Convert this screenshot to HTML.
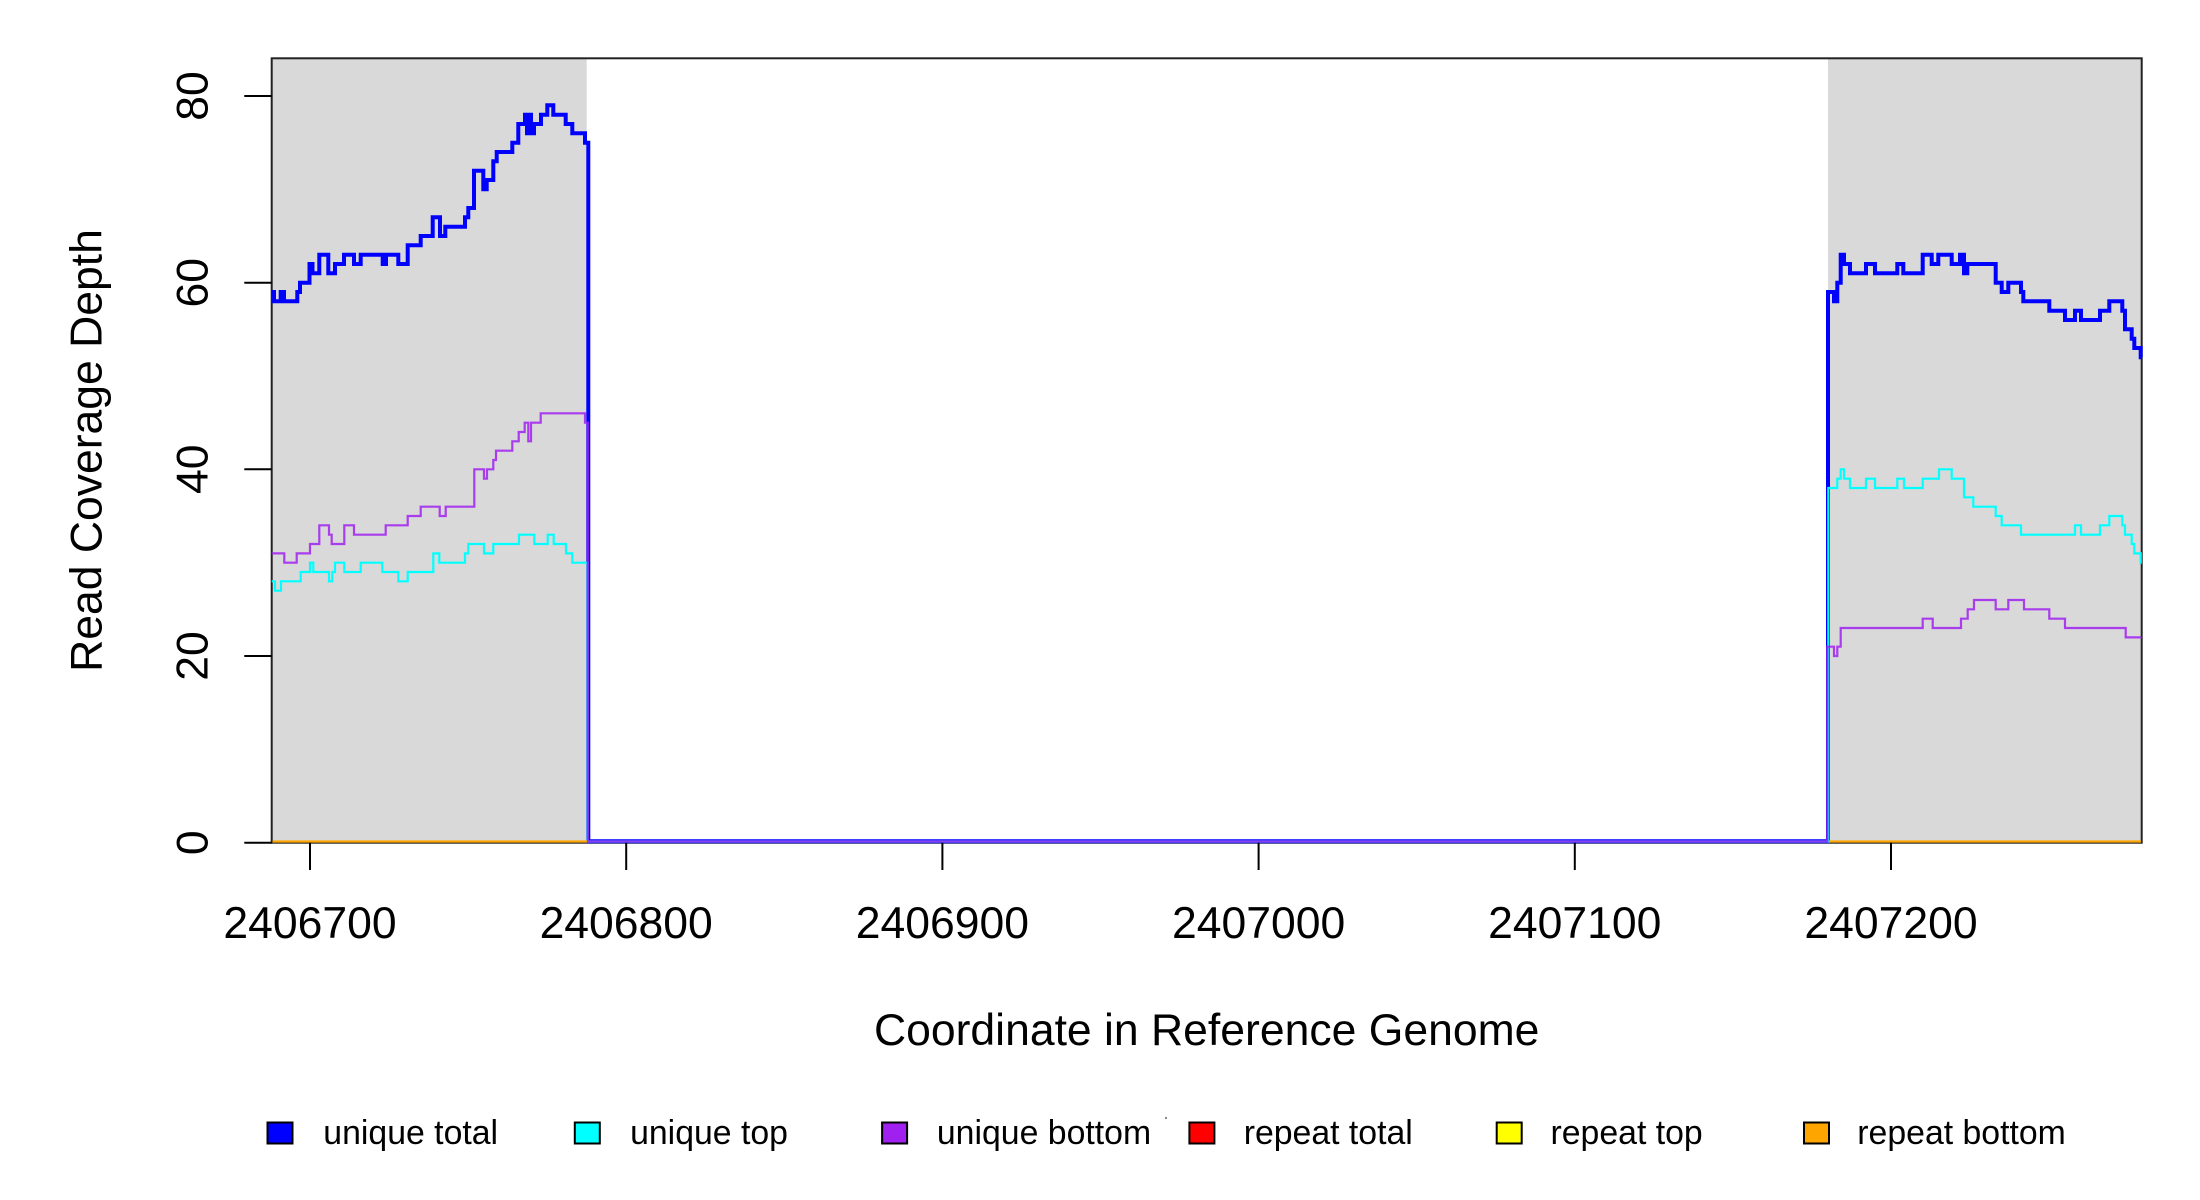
<!DOCTYPE html>
<html>
<head>
<meta charset="utf-8">
<style>
html,body{margin:0;padding:0;background:#fff;}
svg{display:block;}
text{font-family:"Liberation Sans",Arial,sans-serif;fill:#000;}
</style>
</head>
<body>
<svg width="2200" height="1200" viewBox="0 0 2200 1200" xmlns="http://www.w3.org/2000/svg">
<rect x="0" y="0" width="2200" height="1200" fill="#fff"/>
<!-- shaded regions -->
<rect x="271.7" y="58.3" width="315" height="784.4" fill="#d9d9d9"/>
<rect x="1828" y="58.3" width="313.7" height="784.4" fill="#d9d9d9"/>

<!-- box -->
<rect x="271.7" y="58.3" width="1870" height="784.4" fill="none" stroke="#222" stroke-width="2"/>

<!-- unique total -->
<path fill="none" stroke="#0000ff" stroke-width="4" stroke-linejoin="miter" d="M271.7,292 H274 V301.3 H280.7 V292 H284 V301.3 H297.3 V292 H300 V282.7 H309.5 V264 H312.5 V273.3 H319.3 V254.7 H328.3 V273.3 H335 V264 H344 V254.7 H354 V264 H360.7 V254.7 H382.7 V264 H386 V254.7 H398.3 V264 H407.7 V245.3 H420.7 V236 H432.7 V217.3 H440 V236 H445.3 V226.7 H465 V217.3 H468.3 V208 H474 V170.7 H483.3 V189.3 H486.7 V180 H493.3 V161.3 H496.7 V152 H512.3 V142.7 H518.3 V124 H525 V114.7 H527 V133.3 H529 V114.7 H531 V133.3 H534 V124 H541 V114.7 H547.3 V105.3 H553.3 V114.7 H565.7 V124 H572.3 V133.3 H585 V142.7 H588.3 V841.2 H1828 V292 H1834 V301.3 H1837.3 V282.7 H1840.7 V254.7 H1844 V264 H1850 V273.3 H1866 V264 H1875 V273.3 H1897.3 V264 H1903.3 V273.3 H1922.7 V254.7 H1931.7 V264 H1938.3 V254.7 H1951.7 V264 H1960 V254.7 H1964 V273.3 H1967.3 V264 H1995.7 V282.7 H2001.7 V292 H2008.3 V282.7 H2021 V292 H2023.3 V301.3 H2049.3 V310.7 H2065 V320 H2075 V310.7 H2081 V320 H2100 V310.7 H2109.3 V301.3 H2122.3 V310.7 H2125 V329.3 H2131.7 V338.7 H2134.3 V348 H2140.7 V357.3 H2141.7"/>

<!-- unique top -->
<path fill="none" stroke="#00ffff" stroke-width="2.2" d="M271.7,581.3 H275 V590.7 H281 V581.3 H300.7 V572 H310 V562.7 H313.3 V572 H329 V581.3 H332.3 V572 H335 V562.7 H344.3 V572 H360.7 V562.7 H382.3 V572 H398.3 V581.3 H407.7 V572 H433.3 V553.4 H439.3 V562.7 H465 V553.4 H468.3 V544 H484 V553.4 H493.3 V544 H519 V534.7 H534.3 V544 H547.7 V534.7 H553.7 V544 H566 V553.4 H572.3 V562.7 H587.5 V841.5 H1828.3 V488 H1837.3 V478.7 H1840.7 V469.3 H1844 V478.7 H1850 V488 H1866 V478.7 H1875 V488 H1897.3 V478.7 H1904 V488 H1922.7 V478.7 H1939 V469.3 H1951.7 V478.7 H1964 V497.3 H1973.3 V506.7 H1995.7 V516 H2001.7 V525.3 H2021 V534.7 H2075 V525.3 H2081 V534.7 H2100 V525.3 H2109.3 V516 H2122.3 V525.3 H2125 V534.7 H2131.7 V544 H2134.3 V553.4 H2140.7 V562.7 H2141.7"/>

<!-- unique bottom -->
<path fill="none" stroke="#a020f0" stroke-width="2.2" stroke-opacity="0.85" d="M271.7,553.4 H284.3 V562.7 H296.7 V553.4 H310 V544 H319.3 V525.3 H329 V534.7 H331.7 V544 H344.3 V525.3 H354 V534.7 H385.7 V525.3 H407.7 V516 H420.7 V506.7 H439.7 V516 H445.7 V506.7 H474.3 V469.3 H484 V478.7 H487 V469.3 H493.3 V460 H496 V450.7 H512.3 V441.3 H518.7 V432 H524.7 V422.7 H528.3 V441.3 H531 V422.7 H540.7 V413.3 H585 V422.7 H587.8 V841.5 H1827.3 V646.7 H1834 V656 H1837.3 V646.7 H1840.7 V628 H1922.7 V618.7 H1932.7 V628 H1961 V618.7 H1967.7 V609.3 H1974 V600 H1995.7 V609.3 H2008.3 V600 H2024 V609.3 H2049.3 V618.7 H2065 V628 H2125.7 V637.4 H2141.7"/>

<!-- repeat bottom (orange) at zero in shaded regions -->
<path fill="none" stroke="#ffa500" stroke-width="2.2" d="M272.5,841.5 H587 M1829,841.5 H2141"/>

<!-- y ticks -->
<g stroke="#000" stroke-width="2">
<line x1="244.3" y1="842.7" x2="271.7" y2="842.7"/>
<line x1="244.3" y1="656" x2="271.7" y2="656"/>
<line x1="244.3" y1="469.3" x2="271.7" y2="469.3"/>
<line x1="244.3" y1="282.7" x2="271.7" y2="282.7"/>
<line x1="244.3" y1="96" x2="271.7" y2="96"/>
</g>
<g font-size="44.5" text-anchor="middle">
<text transform="translate(207.7,842.7) rotate(-90)">0</text>
<text transform="translate(207.7,656) rotate(-90)">20</text>
<text transform="translate(207.7,469.3) rotate(-90)">40</text>
<text transform="translate(207.7,282.7) rotate(-90)">60</text>
<text transform="translate(207.7,96) rotate(-90)">80</text>
</g>

<!-- x ticks -->
<g stroke="#000" stroke-width="2">
<line x1="310" y1="842.7" x2="310" y2="870"/>
<line x1="626.2" y1="842.7" x2="626.2" y2="870"/>
<line x1="942.4" y1="842.7" x2="942.4" y2="870"/>
<line x1="1258.6" y1="842.7" x2="1258.6" y2="870"/>
<line x1="1574.8" y1="842.7" x2="1574.8" y2="870"/>
<line x1="1891" y1="842.7" x2="1891" y2="870"/>
</g>
<g font-size="44.5" text-anchor="middle">
<text x="310" y="938">2406700</text>
<text x="626.2" y="938">2406800</text>
<text x="942.4" y="938">2406900</text>
<text x="1258.6" y="938">2407000</text>
<text x="1574.8" y="938">2407100</text>
<text x="1891" y="938">2407200</text>
</g>

<!-- axis titles -->
<text x="1206.7" y="1045" font-size="44.5" text-anchor="middle">Coordinate in Reference Genome</text>
<text transform="translate(101.7,450.5) rotate(-90)" font-size="44.5" text-anchor="middle">Read Coverage Depth</text>

<!-- legend -->
<g stroke="#000" stroke-width="2">
<rect x="267.5" y="1122.5" width="25" height="21" fill="#0000ff"/>
<rect x="574.8" y="1122.5" width="25" height="21" fill="#00ffff"/>
<rect x="882.1" y="1122.5" width="25" height="21" fill="#a020f0"/>
<rect x="1189.4" y="1122.5" width="25" height="21" fill="#ff0000"/>
<rect x="1496.7" y="1122.5" width="25" height="21" fill="#ffff00"/>
<rect x="1804" y="1122.5" width="25" height="21" fill="#ffa500"/>
</g>
<rect x="1165" y="1117" width="2" height="2" fill="#888"/>
<g font-size="33.8">
<text x="323.3" y="1144">unique total</text>
<text x="630.1" y="1144">unique top</text>
<text x="936.9" y="1144">unique bottom</text>
<text x="1243.7" y="1144">repeat total</text>
<text x="1550.5" y="1144">repeat top</text>
<text x="1857.3" y="1144">repeat bottom</text>
</g>
</svg>
</body>
</html>
